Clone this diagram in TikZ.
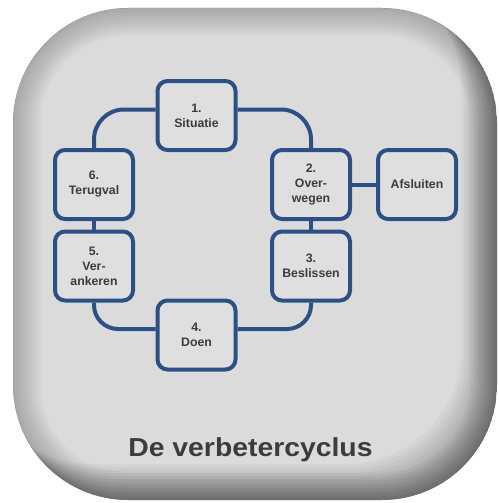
\documentclass[tikz,border=0pt]{standalone}
\usepackage{fontspec}
\setmainfont{Liberation Sans}
\definecolor{boxblue}{HTML}{2C4F85}
\definecolor{bgc}{HTML}{DBDBDB}
\definecolor{txt}{HTML}{3C3C3C}
\begin{document}
\begin{tikzpicture}[x=1pt,y=-1pt,
  stepbox/.style={draw=boxblue, line width=4pt, fill=bgc!90!white, rounded corners=10pt,
    minimum width=78pt, minimum height=69pt, align=center, text=txt,
    font=\fontsize{12.3}{15}\selectfont\bfseries, inner sep=0pt},
  link/.style={draw=boxblue, line width=4pt},
  bgshape/.style={rounded corners=115pt}]
\useasboundingbox (0,0) rectangle (498,503);
\fill[white] (0,0) rectangle (498,503);
% background rounded square with inner shading
\begin{scope}
  \clip[bgshape] (13,8) rectangle (497,500);
  \fill[bgc] (13,8) rectangle (497,500);
  \foreach \w in {4,8,...,56}
    \draw[black, opacity=0.016, line width=\w pt, bgshape] (13,8) rectangle (497,500);
  \foreach \s in {3,6,...,36}
    \fill[black, opacity=0.03, even odd rule, bgshape]
      (13,8) rectangle (497,500)
      ({13-\s},{8-\s}) rectangle ({497-\s},{500-\s});
\end{scope}
% steps
\node[stepbox] (n1) at (196.5,115.5) {1.\\Situatie};
\node[stepbox] (n2) at (311,184.5) {2.\\Over-\\wegen};
\node[stepbox] (na) at (417,184.5) {Afsluiten};
\node[stepbox] (n3) at (311,266) {3.\\Beslissen};
\node[stepbox] (n4) at (196.5,335) {4.\\Doen};
\node[stepbox] (n5) at (94,266) {5.\\Ver-\\ankeren};
\node[stepbox] (n6) at (94,184.5) {6.\\Terugval};
% connectors
\draw[link, rounded corners=30pt] ([yshift=6pt]n1.west) -| (n6.north);
\draw[link, rounded corners=30pt] ([yshift=6pt]n1.east) -| (n2.north);
\draw[link] (n6) -- (n5);
\draw[link] (n2) -- (n3);
\draw[link] (n2) -- (na);
\draw[link, rounded corners=24pt] ([yshift=6pt]n4.west) -| (n5.south);
\draw[link, rounded corners=24pt] ([yshift=6pt]n4.east) -| (n3.south);
% title
\node[anchor=base, text=txt, font=\fontsize{26}{30}\selectfont\bfseries, inner sep=0pt]
  (title) at (250.5,456.7) {\scalebox{1.09}[1]{De verbetercyclus}};
\end{tikzpicture}
\end{document}
